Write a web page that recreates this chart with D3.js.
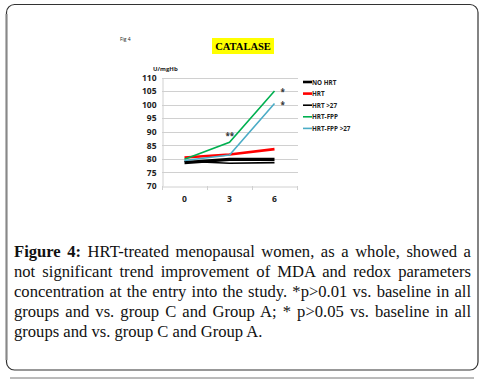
<!DOCTYPE html>
<html>
<head>
<script src="https://d3js.org/d3.v7.min.js"></script>
<style>
  body { margin: 0; background: #fff; }
  #wrap { position: relative; width: 494px; height: 379px; }
  svg { position: absolute; left: 0; top: 0; }
  .caption {
    position: absolute; left: 14px; top: 242px; width: 457px;
    font-family: "Liberation Serif", "Times New Roman", serif;
    font-size: 16.6px; line-height: 20px; color: #111;
  }
  .caption div { text-align: justify; text-align-last: justify; white-space: nowrap; }
  .caption div.last { text-align-last: left; }
</style>
</head>
<body>
<div id="wrap">
  <svg width="494" height="379"></svg>
  <div class="caption"></div>
</div>
<script>
  // chart data
  const months = ["0", "3", "6"]
  const seriesNames = ["NO HRT", "HRT", "HRT >27", "HRT-FPP", "HRT-FPP >27"]
  const noHrt = [78.6, 79.8, 79.8]
  const hrt = [80.5, 81.6, 83.6]
  const hrt27 = [79.1, 78.4, 78.6]
  const hrtFpp = [79.9, 86.1, 105]
  const hrtFpp27 = [79.4, 81.4, 100.4]
  const yTicks = [70, 75, 80, 85, 90, 95, 100, 105, 110]

  const captionLines = [
    ["Figure 4:", " HRT-treated menopausal women, as a whole, showed a"],
    ["", "not significant trend improvement of MDA and redox parameters"],
    ["", "concentration at the entry into the study. *p>0.01 vs. baseline in all"],
    ["", "groups and vs. group C and Group A; * p>0.05 vs. baseline in all"],
    ["", "groups and vs. group C and Group A."]
  ]

  const series = [
    {name: seriesNames[0], values: noHrt, color: "#000", width: 3.2},
    {name: seriesNames[1], values: hrt, color: "#f00", width: 2.6},
    {name: seriesNames[2], values: hrt27, color: "#000", width: 1.6},
    {name: seriesNames[3], values: hrtFpp, color: "#00b050", width: 1.6},
    {name: seriesNames[4], values: hrtFpp27, color: "#4bacc6", width: 1.6}
  ]

  const svg = d3.select("svg")

  // frame
  svg.append("rect")
    .attr("x", 6.5).attr("y", 4.5).attr("width", 471.5).attr("height", 365.5)
    .attr("rx", 8).attr("ry", 8)
    .attr("fill", "none").attr("stroke", "#333").attr("stroke-width", 1.2)
  svg.append("line")
    .attr("x1", 6.5).attr("x2", 6.5).attr("y1", 14).attr("y2", 360)
    .attr("stroke", "#888").attr("stroke-width", 2)
  svg.append("line")
    .attr("x1", 10).attr("x2", 474).attr("y1", 378).attr("y2", 378)
    .attr("stroke", "#777").attr("stroke-width", 1)

  const x = d3.scaleBand().domain(months).range([162, 297])
  const y = d3.scaleLinear().domain([70, 110]).range([186, 77.5])

  // gridlines
  svg.append("g").selectAll("line")
    .data(yTicks.slice(1))
    .join("line")
    .attr("x1", 162).attr("x2", 298)
    .attr("y1", d => Math.round(y(d)) + 0.5).attr("y2", d => Math.round(y(d)) + 0.5)
    .attr("stroke", "#d0d0d0").attr("stroke-width", 1)

  // axes
  const yAxis = svg.append("g")
    .attr("transform", "translate(162.5,0)")
    .call(d3.axisLeft(y).tickValues(yTicks).tickSize(0).tickPadding(6))
  yAxis.select(".domain").attr("stroke", "#d0d0d0")
  yAxis.selectAll("text")
    .attr("font-family", "'Open Sans', sans-serif").attr("font-size", 8.5)
    .attr("font-weight", "bold").attr("fill", "#222")

  const xAxis = svg.append("g")
    .attr("transform", "translate(0,186.5)")
    .call(d3.axisBottom(x).tickSize(0).tickPadding(9))
  xAxis.select(".domain").attr("stroke", "#d0d0d0")
  xAxis.selectAll("text")
    .attr("font-family", "'Open Sans', sans-serif").attr("font-size", 8.5)
    .attr("font-weight", "bold").attr("fill", "#222")
  // tick marks between categories
  svg.append("g").selectAll("line")
    .data(months.concat(["end"]))
    .join("line")
    .attr("x1", (d, i) => 162.5 + i * x.step()).attr("x2", (d, i) => 162.5 + i * x.step())
    .attr("y1", 186).attr("y2", 190)
    .attr("stroke", "#d0d0d0")

  // lines
  const line = d3.line()
    .x((d, i) => x(months[i]) + x.bandwidth() / 2)
    .y(d => y(d))
  svg.append("g").selectAll("path")
    .data(series)
    .join("path")
    .attr("d", d => line(d.values))
    .attr("fill", "none")
    .attr("stroke", d => d.color)
    .attr("stroke-width", d => d.width)

  // significance marks
  const marks = [
    {text: "**", xi: 1, v: hrtFpp[1], dx: -4, dy: -3},
    {text: "*", xi: 2, v: hrtFpp[2], dx: 6, dy: 4},
    {text: "*", xi: 2, v: hrtFpp27[2], dx: 6, dy: 4}
  ]
  svg.append("g").selectAll("text")
    .data(marks)
    .join("text")
    .attr("x", d => x(months[d.xi]) + x.bandwidth() / 2 + d.dx)
    .attr("y", d => y(d.v) + d.dy)
    .attr("font-family", "'Open Sans', sans-serif").attr("font-size", 8)
    .attr("font-weight", "bold").attr("fill", "#333")
    .text(d => d.text)

  // legend
  const legend = svg.append("g").selectAll("g")
    .data(series)
    .join("g")
    .attr("transform", (d, i) => `translate(303,${82 + i * 11.6})`)
  legend.append("line")
    .attr("x1", 0).attr("x2", 9).attr("y1", 0).attr("y2", 0)
    .attr("stroke", d => d.color).attr("stroke-width", d => Math.min(d.width, 2.6))
  legend.append("text")
    .attr("x", 9).attr("y", 2.5)
    .attr("font-family", "'Open Sans', sans-serif").attr("font-size", 6.3)
    .attr("font-weight", "bold").attr("fill", "#222")
    .text(d => d.name)

  // titles
  svg.append("text").attr("x", 120).attr("y", 41)
    .attr("font-family", "'Open Sans', sans-serif").attr("font-size", 5)
    .attr("fill", "#222").text("Fig 4")
  svg.append("rect").attr("x", 212).attr("y", 38).attr("width", 62).attr("height", 16)
    .attr("fill", "#ffff00")
  svg.append("text").attr("x", 243).attr("y", 50).attr("text-anchor", "middle")
    .attr("font-family", "'Liberation Serif', serif").attr("font-size", 10.5)
    .attr("font-weight", "bold").attr("fill", "#000").text("CATALASE")
  svg.append("text").attr("x", 153).attr("y", 71)
    .attr("font-family", "'Open Sans', sans-serif").attr("font-size", 6)
    .attr("font-weight", "bold").attr("fill", "#222").text("U/mgHb")

  // caption
  const cap = d3.select(".caption").selectAll("div")
    .data(captionLines)
    .join("div")
    .attr("class", (d, i) => i === captionLines.length - 1 ? "last" : null)
  cap.append("b").text(d => d[0])
  cap.append("span").text(d => d[1])
</script>
</body>
</html>
